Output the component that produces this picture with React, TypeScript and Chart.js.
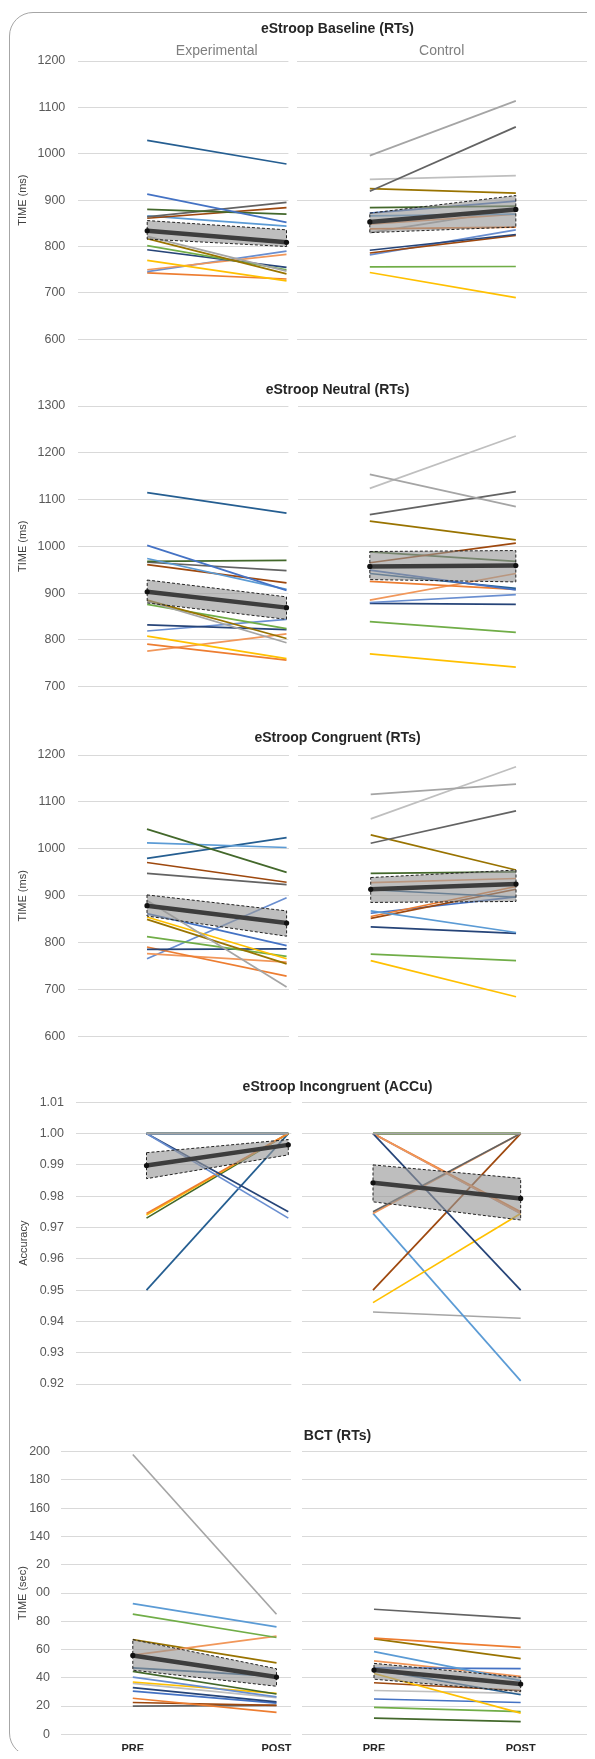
import React, { useEffect, useRef } from 'react';
import { Chart, registerables } from 'chart.js';

Chart.register(...registerables);

const FONT = '"Liberation Sans", Arial, Helvetica, sans-serif';

// ---------- palette (Excel style) ----------
const BLUE = '#4472C4';
const ORANGE = '#ED7D31';
const GREY = '#A5A5A5';
const GOLD = '#FFC000';
const LBLUE = '#5B9BD5';
const GREEN = '#70AD47';
const DBLUE = '#264478';
const BROWN = '#9E480E';
const DGREY = '#636363';
const OLIVE = '#997300';
const STEEL = '#255E91';
const DGREEN = '#43682B';
const LBLUE2 = '#698ED0';
const LORANGE = '#F1975A';
const LGREY = '#BFBFBF';

// ---------- axis ticks ----------
const timeLabels = ['PRE', 'POST'];
const baselineTickValues = [600, 700, 800, 900, 1000, 1100, 1200];
const baselineTickLabels = ['600', '700', '800', '900', '1000', '1100', '1200'];
const neutralTickValues = [700, 800, 900, 1000, 1100, 1200, 1300];
const neutralTickLabels = ['700', '800', '900', '1000', '1100', '1200', '1300'];
const congruentTickValues = [600, 700, 800, 900, 1000, 1100, 1200];
const congruentTickLabels = ['600', '700', '800', '900', '1000', '1100', '1200'];
const incongruentTickValues = [0.92, 0.93, 0.94, 0.95, 0.96, 0.97, 0.98, 0.99, 1.0, 1.01];
const incongruentTickLabels = ['0.92', '0.93', '0.94', '0.95', '0.96', '0.97', '0.98', '0.99', '1.00', '1.01'];
const bctTickValues = [0, 20, 40, 60, 80, 100, 120, 140, 160, 180, 200];
const bctTickLabels = ['0', '20', '40', '60', '80', '00', '20', '140', '160', '180', '200'];

// ---------- eStroop Baseline (RTs) ----------
const baselineExpPre = [1029, 913, 880, 864, 861, 866, 822, 817, 770, 802, 793, 750, 746, 743];
const baselineExpPost = [978, 852, 870, 895, 884, 844, 747, 741, 726, 750, 755, 783, 790, 730];
const baselineExpColors = [STEEL, BLUE, DGREEN, DGREY, BROWN, LBLUE, GREY, OLIVE, GOLD, GREEN, DBLUE, LORANGE, LBLUE2, ORANGE];
const baselineExpMean = [834, 809];
const baselineExpUpper = [856, 836];
const baselineExpLower = [816, 800];
const baselineCtlPre = [996, 919, 945, 925, 884, 872, 866, 848, 838, 830, 792, 786, 782, 756, 744];
const baselineCtlPost = [1114, 1058, 953, 915, 887, 898, 870, 870, 842, 880, 826, 824, 836, 757, 690];
const baselineCtlColors = [GREY, DGREY, LGREY, OLIVE, DGREEN, BLUE, LBLUE, LORANGE, ORANGE, GREY, DBLUE, BROWN, LBLUE2, GREEN, GOLD];
const baselineCtlMean = [853, 880];
const baselineCtlUpper = [872, 910];
const baselineCtlLower = [830, 842];

// ---------- eStroop Neutral (RTs) ----------
const neutralExpPre = [1115, 1002, 974, 968, 966, 961, 885, 883, 876, 832, 819, 808, 791, 776];
const neutralExpPost = [1071, 906, 908, 970, 948, 922, 803, 794, 824, 822, 844, 760, 757, 813];
const neutralExpColors = [STEEL, BLUE, LBLUE, DGREEN, DGREY, BROWN, OLIVE, GREY, GREEN, DBLUE, LBLUE2, GOLD, ORANGE, LORANGE];
const neutralExpMean = [903, 869];
const neutralExpUpper = [928, 892];
const neutralExpLower = [879, 844];
const neutralCtlPre = [1154, 1124, 1068, 1054, 965, 988, 949, 942, 925, 885, 880, 878, 839, 770];
const neutralCtlPost = [1085, 1236, 1117, 1014, 1007, 968, 907, 910, 908, 942, 897, 876, 816, 742];
const neutralCtlColors = [GREY, LGREY, DGREY, OLIVE, BROWN, DGREEN, BLUE, STEEL, ORANGE, LORANGE, LBLUE2, DBLUE, GREEN, GOLD];
const neutralCtlMean = [957, 959];
const neutralCtlUpper = [989, 991];
const neutralCtlLower = [929, 924];

// ---------- eStroop Congruent (RTs) ----------
const congruentExpPre = [1042, 1013, 980, 971, 948, 890, 855, 850, 862, 813, 786, 791, 777, 766];
const congruentExpPost = [950, 1003, 1024, 929, 924, 706, 766, 755, 794, 771, 787, 729, 759, 896];
const congruentExpColors = [DGREEN, LBLUE, STEEL, BROWN, DGREY, GREY, GOLD, OLIVE, BLUE, GREEN, DBLUE, ORANGE, LORANGE, LBLUE2];
const congruentExpMean = [879, 842];
const congruentExpUpper = [902, 868];
const congruentExpLower = [857, 814];
const congruentCtlPre = [1116, 1064, 1012, 1030, 948, 928, 913, 868, 856, 852, 863, 834, 776, 762];
const congruentCtlPost = [1138, 1175, 1081, 955, 951, 937, 897, 822, 920, 914, 898, 820, 762, 685];
const congruentCtlColors = [GREY, LGREY, DGREY, OLIVE, DGREEN, LORANGE, STEEL, LBLUE, ORANGE, BROWN, BLUE, DBLUE, GREEN, GOLD];
const congruentCtlMean = [914, 925];
const congruentCtlUpper = [939, 955];
const congruentCtlLower = [886, 888];

// ---------- eStroop Incongruent (ACCu) ----------
const incongruentExpPre = [1.0, 1.0, 1.0, 0.9745, 0.974, 0.973, 0.95, 1.0, 1.0, 1.0, 1.0, 1.0, 1.0];
const incongruentExpPost = [1.0, 0.973, 0.975, 1.0, 1.0, 1.0, 1.0, 1.0, 1.0, 1.0, 1.0, 1.0, 1.0];
const incongruentExpColors = [GREY, LBLUE2, DBLUE, ORANGE, GOLD, DGREEN, STEEL, BLUE, LBLUE, GREEN, BROWN, DGREY, OLIVE];
const incongruentExpMean = [0.9898, 0.9964];
const incongruentExpUpper = [0.9939, 0.9981];
const incongruentExpLower = [0.9856, 0.9932];
const incongruentCtlPre = [1.0, 1.0, 1.0, 1.0, 1.0, 0.975, 0.9745, 0.95, 0.946, 0.9745, 0.943, 1.0, 1.0, 1.0, 1.0];
const incongruentCtlPost = [1.0, 0.95, 0.9745, 0.975, 0.9745, 1.0, 1.0, 1.0, 0.9745, 0.921, 0.941, 1.0, 1.0, 1.0, 1.0];
const incongruentCtlColors = [GREY, DBLUE, LORANGE, ORANGE, LBLUE2, DGREY, LORANGE, BROWN, GOLD, LBLUE, GREY, GREEN, DGREEN, OLIVE, STEEL];
const incongruentCtlMean = [0.9843, 0.9793];
const incongruentCtlUpper = [0.99, 0.9857];
const incongruentCtlLower = [0.9782, 0.9724];

// ---------- BCT (RTs) ----------
const bctExpPre = [198, 92.5, 85, 56, 67, 47, 44.5, 40.5, 37, 36, 33, 30.5, 25.5, 22.5, 20];
const bctExpPost = [85, 76, 68.5, 69.5, 50.5, 41, 28.5, 26.5, 29, 26, 23, 22, 15.5, 20.5, 20.5];
const bctExpColors = [GREY, LBLUE, GREEN, LORANGE, OLIVE, STEEL, DGREEN, LBLUE2, GOLD, LGREY, DBLUE, BLUE, ORANGE, BROWN, DGREY];
const bctExpMean = [55.8, 40.5];
const bctExpUpper = [67, 46.4];
const bctExpLower = [45.4, 34];
const bctCtlPre = [88.5, 68, 67.5, 58.5, 47, 52, 43, 46, 36.5, 31, 25, 19, 11.5];
const bctCtlPost = [82, 61.5, 53.5, 38, 46.5, 41, 15, 28, 31, 29, 22.5, 16, 9];
const bctCtlColors = [DGREY, ORANGE, OLIVE, LBLUE, BLUE, LORANGE, GOLD, STEEL, BROWN, LGREY, BLUE, GREEN, DGREEN];
const bctCtlMean = [45.5, 35.6];
const bctCtlUpper = [50.2, 40.3];
const bctCtlLower = [39, 30.2];

type Group = { pre: number[]; post: number[]; colors: string[]; mean: number[]; upper: number[]; lower: number[] };
type Geo = { plotLeft: number; plotRight: number; prePx: number; postPx: number };
type PanelDef = {
  title: string;
  yTitle: string;
  yTitleX: number;
  tickValues: number[];
  tickLabels: string[];
  tickGap: number;
  top: number;
  bottom: number;
  titleY: number;
  showX: boolean;
  exp: Group;
  ctl: Group;
  expGeo: Geo;
  ctlGeo: Geo;
};

const panels: PanelDef[] = [
  {
    title: 'eStroop Baseline (RTs)', yTitle: 'TIME (ms)', yTitleX: 22.8,
    tickValues: baselineTickValues, tickLabels: baselineTickLabels, tickGap: 12.5,
    top: 61, bottom: 339.3, titleY: 28, showX: false,
    exp: { pre: baselineExpPre, post: baselineExpPost, colors: baselineExpColors, mean: baselineExpMean, upper: baselineExpUpper, lower: baselineExpLower },
    ctl: { pre: baselineCtlPre, post: baselineCtlPost, colors: baselineCtlColors, mean: baselineCtlMean, upper: baselineCtlUpper, lower: baselineCtlLower },
    expGeo: { plotLeft: 77.8, plotRight: 288.4, prePx: 147.2, postPx: 286.5 },
    ctlGeo: { plotLeft: 297, plotRight: 595, prePx: 370.8, postPx: 518.8 },
  },
  {
    title: 'eStroop Neutral (RTs)', yTitle: 'TIME (ms)', yTitleX: 22.8,
    tickValues: neutralTickValues, tickLabels: neutralTickLabels, tickGap: 12.5,
    top: 406, bottom: 686.7, titleY: 388.5, showX: false,
    exp: { pre: neutralExpPre, post: neutralExpPost, colors: neutralExpColors, mean: neutralExpMean, upper: neutralExpUpper, lower: neutralExpLower },
    ctl: { pre: neutralCtlPre, post: neutralCtlPost, colors: neutralCtlColors, mean: neutralCtlMean, upper: neutralCtlUpper, lower: neutralCtlLower },
    expGeo: { plotLeft: 77.8, plotRight: 288.4, prePx: 147.2, postPx: 286.5 },
    ctlGeo: { plotLeft: 297.5, plotRight: 595, prePx: 370.8, postPx: 518.8 },
  },
  {
    title: 'eStroop Congruent (RTs)', yTitle: 'TIME (ms)', yTitleX: 22.8,
    tickValues: congruentTickValues, tickLabels: congruentTickLabels, tickGap: 12.5,
    top: 755, bottom: 1036.7, titleY: 737, showX: false,
    exp: { pre: congruentExpPre, post: congruentExpPost, colors: congruentExpColors, mean: congruentExpMean, upper: congruentExpUpper, lower: congruentExpLower },
    ctl: { pre: congruentCtlPre, post: congruentCtlPost, colors: congruentCtlColors, mean: congruentCtlMean, upper: congruentCtlUpper, lower: congruentCtlLower },
    expGeo: { plotLeft: 77.8, plotRight: 289, prePx: 147, postPx: 286.6 },
    ctlGeo: { plotLeft: 298, plotRight: 595, prePx: 371.7, postPx: 519 },
  },
  {
    title: 'eStroop Incongruent (ACCu)', yTitle: 'Accuracy', yTitleX: 24,
    tickValues: incongruentTickValues, tickLabels: incongruentTickLabels, tickGap: 12,
    top: 1102.3, bottom: 1384, titleY: 1085.5, showX: false,
    exp: { pre: incongruentExpPre, post: incongruentExpPost, colors: incongruentExpColors, mean: incongruentExpMean, upper: incongruentExpUpper, lower: incongruentExpLower },
    ctl: { pre: incongruentCtlPre, post: incongruentCtlPost, colors: incongruentCtlColors, mean: incongruentCtlMean, upper: incongruentCtlUpper, lower: incongruentCtlLower },
    expGeo: { plotLeft: 76, plotRight: 291.3, prePx: 146.5, postPx: 288.3 },
    ctlGeo: { plotLeft: 301.5, plotRight: 595, prePx: 374, postPx: 523.7 },
  },
  {
    title: 'BCT (RTs)', yTitle: 'TIME (sec)', yTitleX: 22.8,
    tickValues: bctTickValues, tickLabels: bctTickLabels, tickGap: 11,
    top: 1451.7, bottom: 1734.3, titleY: 1434.5, showX: true,
    exp: { pre: bctExpPre, post: bctExpPost, colors: bctExpColors, mean: bctExpMean, upper: bctExpUpper, lower: bctExpLower },
    ctl: { pre: bctCtlPre, post: bctCtlPost, colors: bctCtlColors, mean: bctCtlMean, upper: bctCtlUpper, lower: bctCtlLower },
    expGeo: { plotLeft: 61, plotRight: 291, prePx: 132.8, postPx: 276.5 },
    ctlGeo: { plotLeft: 301.5, plotRight: 595, prePx: 375, postPx: 523.7 },
  },
];

const CANVAS_W = 595;
const X_AXIS_H = 22;
const V_PAD = 26; // must exceed half label height + tick padding so Chart.js keeps the exact plot box

function canvasBox(p: PanelDef) {
  const top = Math.floor(p.top - V_PAD);
  const height = Math.ceil(p.bottom + (p.showX ? X_AXIS_H + 5 : V_PAD) - top);
  return { top, height };
}

function buildConfig(p: PanelDef, g: Group, geo: Geo, isLeft: boolean): any {
  const { top: cTop, height: cH } = canvasBox(p);
  const span = geo.postPx - geo.prePx;
  const xMin = (geo.plotLeft - geo.prePx) / span;
  const xMax = (geo.plotRight - geo.prePx) / span;
  const xH = p.showX ? X_AXIS_H : 0;
  const padTop = p.top - cTop;
  const padBottom = cTop + cH - p.bottom - xH;
  const yMin = p.tickValues[0];
  const yMax = p.tickValues[p.tickValues.length - 1];

  const datasets: any[] = [];
  datasets.push({
    data: [{ x: 0, y: g.mean[0] }, { x: 1, y: g.mean[1] }],
    borderColor: '#3d3d3d', borderWidth: 4.5, pointRadius: 2.6,
    pointBackgroundColor: '#111', pointBorderWidth: 0, fill: false, order: 0, clip: false,
  });
  datasets.push({
    data: [
      { x: 0, y: g.upper[0] }, { x: 1, y: g.upper[1] },
      { x: 1, y: g.lower[1] }, { x: 0, y: g.lower[0] }, { x: 0, y: g.upper[0] },
    ],
    borderColor: '#222', borderWidth: 1, borderDash: [3, 2],
    backgroundColor: 'rgba(150,150,150,0.62)', fill: 'shape', pointRadius: 0, order: 1,
  });
  g.pre.forEach((v, i) => {
    datasets.push({
      data: [{ x: 0, y: v }, { x: 1, y: g.post[i] }],
      borderColor: g.colors[i], borderWidth: 1.7, pointRadius: 0, fill: false, order: 2,
    });
  });

  const xScale: any = p.showX
    ? {
        type: 'linear', min: xMin, max: xMax, display: true,
        afterBuildTicks: (s: any) => { s.ticks = [{ value: 0 }, { value: 1 }]; },
        afterFit: (s: any) => { s.height = X_AXIS_H; },
        grid: { display: false, drawTicks: false },
        border: { display: false },
        ticks: {
          padding: 8, color: '#262626', autoSkip: false, maxRotation: 0,
          font: { family: FONT, size: 11, weight: 'bold' },
          callback: (_v: any, i: number) => timeLabels[i],
        },
      }
    : { type: 'linear', min: xMin, max: xMax, display: false };

  return {
    type: 'line',
    data: { datasets },
    options: {
      animation: false,
      responsive: false,
      maintainAspectRatio: false,
      events: [],
      layout: { padding: { left: 0, right: CANVAS_W - geo.plotRight, top: padTop, bottom: padBottom } },
      plugins: { legend: { display: false }, tooltip: { enabled: false }, title: { display: false } },
      scales: {
        x: xScale,
        y: {
          type: 'linear', min: yMin, max: yMax,
          afterBuildTicks: (s: any) => { s.ticks = p.tickValues.map((v) => ({ value: v })); },
          afterFit: (s: any) => { s.width = geo.plotLeft; },
          grid: { color: '#d9d9d9', lineWidth: 1, drawTicks: false },
          border: { display: false },
          ticks: {
            display: isLeft, padding: p.tickGap, color: '#595959',
            font: { family: FONT, size: 12.5 },
            callback: (_v: any, i: number) => p.tickLabels[i],
          },
          title: isLeft
            ? {
                display: true, text: p.yTitle, color: '#404040',
                font: { family: FONT, size: 11 },
                padding: { top: p.yTitleX - 6.6, bottom: 0 },
              }
            : { display: false },
        },
      },
    },
  };
}

function ChartCanvas({ panel, side }: { panel: PanelDef; side: 'exp' | 'ctl' }) {
  const ref = useRef<HTMLCanvasElement>(null);
  const { top, height } = canvasBox(panel);
  useEffect(() => {
    if (!ref.current) return;
    const g = side === 'exp' ? panel.exp : panel.ctl;
    const geo = side === 'exp' ? panel.expGeo : panel.ctlGeo;
    const chart = new Chart(ref.current, buildConfig(panel, g, geo, side === 'exp'));
    return () => chart.destroy();
  }, [panel, side]);
  return (
    <canvas
      ref={ref}
      width={CANVAS_W}
      height={height}
      style={{ position: 'absolute', left: 0, top, width: CANVAS_W, height }}
    />
  );
}

const textBase: React.CSSProperties = {
  position: 'absolute',
  transform: 'translate(-50%, -50%)',
  whiteSpace: 'nowrap',
  fontFamily: FONT,
  lineHeight: 1,
};

export default function App() {
  return (
    <div
      style={{
        position: 'relative',
        margin: -8,
        width: 595,
        height: 1759,
        overflow: 'hidden',
        background: '#fff',
        fontFamily: FONT,
      }}
    >
      <div
        style={{
          position: 'absolute', left: 9, top: 11.5, width: 700, height: 1745,
          border: '1.3px solid #a6a6a6', borderRadius: 24, boxSizing: 'border-box',
        }}
      />
      {panels.map((p, i) => (
        <React.Fragment key={i}>
          <ChartCanvas panel={p} side="exp" />
          <ChartCanvas panel={p} side="ctl" />
          <div style={{ ...textBase, left: 337.5, top: p.titleY, fontSize: 14, fontWeight: 700, color: '#262626' }}>
            {p.title}
          </div>
        </React.Fragment>
      ))}
      <div style={{ ...textBase, left: 216.7, top: 50, fontSize: 14, color: '#7f7f7f' }}>Experimental</div>
      <div style={{ ...textBase, left: 441.7, top: 50, fontSize: 14, color: '#7f7f7f' }}>Control</div>
    </div>
  );
}
